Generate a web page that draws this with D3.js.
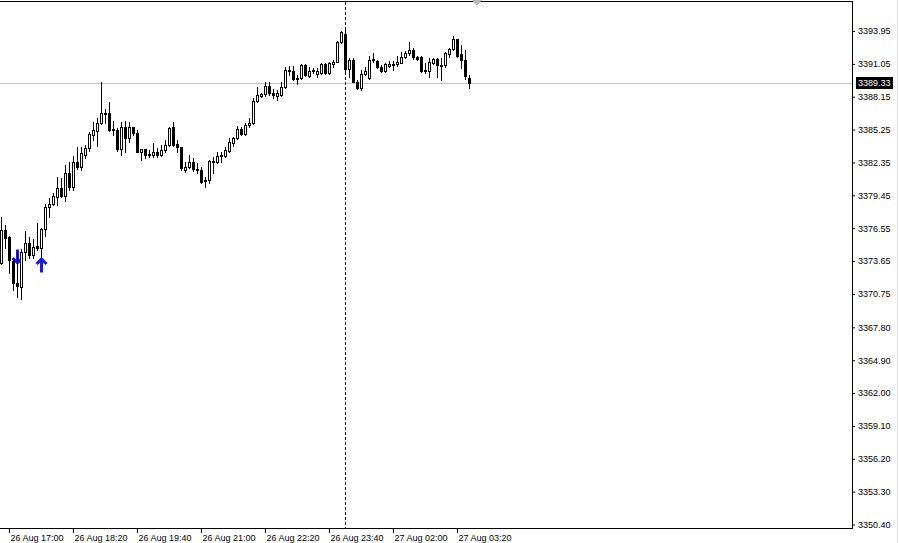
<!DOCTYPE html>
<html><head><meta charset="utf-8">
<script src="https://cdn.jsdelivr.net/npm/d3@7"></script>
<style>
html,body{margin:0;padding:0;background:#fff;overflow:hidden}
svg{display:block;font-family:"Liberation Sans",Arial,sans-serif}
</style></head><body><svg id="c" width="899" height="543"></svg>
<script>
// ---- data (M5 bars from 26 Aug 16:50) ----
const opens = [3373.48,3376.39,3375.77,3373.65,3371.71,3371.40,3374.45,3375.24,3374.18,3375.02,
3374.84,3376.48,3378.40,3378.65,3379.33,3380.07,3379.41,3381.39,3380.21,3382.36,
3381.98,3383.01,3383.65,3384.77,3385.13,3385.80,3386.63,3386.69,3385.24,3385.21,
3383.51,3385.50,3384.53,3385.45,3384.92,3383.30,3383.51,3383.07,3383.01,3383.30,
3383.01,3383.45,3383.89,3385.45,3383.98,3383.69,3381.68,3381.92,3382.42,3381.77,
3381.68,3380.80,3380.80,3382.40,3382.36,3382.95,3382.95,3383.40,3384.09,3384.48,
3385.27,3384.86,3385.62,3385.80,3387.77,3388.25,3388.36,3389.10,3388.45,3388.24,
3388.30,3389.04,3390.51,3390.45,3389.71,3389.78,3390.95,3390.01,3390.40,3390.16,
3390.22,3391.04,3390.27,3391.04,3391.24,3392.95,3393.66,3390.60,3391.39,3389.48,
3388.92,3390.13,3389.78,3391.39,3391.30,3390.80,3390.39,3390.89,3391.01,3391.01,
3391.17,3391.66,3391.98,3392.27,3391.68,3391.62,3390.51,3390.42,3391.17,3391.48,
3390.95,3390.92,3391.89,3392.36,3393.21,3391.89,3391.39,3389.83];
const highs = [3377.54,3376.83,3375.86,3373.83,3374.45,3374.71,3376.30,3375.77,3375.59,3377.01,
3376.55,3378.68,3379.21,3379.63,3381.10,3380.95,3382.13,3382.36,3382.95,3383.74,
3383.74,3383.89,3385.06,3385.95,3386.24,3389.45,3387.04,3387.71,3386.01,3385.36,
3385.95,3386.04,3385.95,3385.50,3385.21,3383.51,3383.51,3383.45,3384.09,3383.62,
3383.89,3384.33,3385.50,3385.95,3384.33,3383.74,3382.42,3383.01,3382.74,3382.30,
3381.92,3381.04,3382.57,3382.80,3383.24,3383.24,3383.71,3384.48,3384.62,3385.57,
3385.45,3385.80,3386.24,3388.06,3389.04,3388.48,3389.42,3389.42,3388.83,3388.74,
3389.45,3390.80,3390.89,3390.89,3390.07,3391.01,3391.01,3390.80,3390.65,3390.65,
3391.10,3391.10,3391.19,3391.39,3393.07,3393.95,3394.13,3391.54,3391.54,3389.63,
3390.51,3390.77,3391.77,3391.98,3391.39,3390.95,3391.10,3391.30,3391.33,3391.77,
3392.12,3392.18,3393.01,3392.42,3391.77,3391.77,3391.10,3391.54,3391.60,3391.60,
3391.54,3392.12,3392.48,3393.54,3393.24,3392.71,3392.27,3390.07];
const lows = [3373.39,3374.80,3372.59,3371.09,3370.48,3370.30,3373.74,3373.92,3373.92,3374.62,
3373.92,3375.86,3377.50,3378.59,3378.59,3379.33,3378.95,3379.92,3379.92,3381.77,
3381.68,3382.72,3383.36,3384.33,3383.83,3385.75,3385.80,3385.15,3384.77,3383.36,
3383.01,3383.30,3384.18,3384.77,3383.30,3382.57,3382.72,3382.80,3382.80,3382.83,
3382.92,3383.30,3383.80,3383.80,3383.30,3381.68,3381.53,3381.83,3381.60,3381.45,
3380.51,3380.15,3380.51,3381.39,3382.27,3382.36,3382.83,3383.30,3383.80,3384.39,
3384.77,3384.77,3385.48,3385.72,3387.66,3388.12,3388.24,3388.30,3388.01,3387.86,
3388.21,3388.95,3390.07,3389.63,3389.25,3389.71,3390.01,3389.92,3390.22,3389.92,
3390.13,3390.13,3390.18,3390.80,3391.19,3392.86,3390.36,3389.92,3389.42,3388.83,
3388.74,3390.04,3389.71,3391.19,3390.71,3390.30,3390.33,3390.80,3390.51,3390.89,
3391.10,3391.54,3391.83,3391.48,3391.39,3390.36,3390.22,3389.92,3391.04,3389.92,
3389.63,3390.80,3391.68,3392.27,3391.68,3390.71,3389.71,3388.92];
const closes = [3376.39,3375.68,3373.74,3371.71,3371.49,3374.45,3375.24,3374.18,3374.88,3374.84,
3376.48,3378.42,3378.68,3379.41,3380.07,3379.41,3381.39,3380.21,3382.36,3381.98,
3383.16,3383.65,3384.83,3385.21,3385.80,3386.69,3386.74,3385.21,3385.27,3383.51,
3385.50,3384.48,3385.50,3384.92,3383.30,3383.51,3383.01,3383.01,3383.30,3383.01,
3383.45,3383.89,3385.36,3383.89,3383.69,3381.83,3381.92,3382.42,3381.77,3381.68,
3380.65,3380.74,3382.48,3382.46,3382.92,3383.01,3383.45,3384.18,3384.51,3385.27,
3384.86,3385.65,3385.86,3387.77,3388.30,3388.36,3389.10,3388.45,3388.30,3388.45,
3389.04,3390.51,3390.42,3389.71,3389.83,3390.95,3390.07,3390.42,3390.51,3390.42,
3391.04,3390.22,3391.10,3391.24,3392.95,3393.83,3390.60,3391.39,3389.48,3388.92,
3390.13,3390.42,3391.39,3391.48,3390.80,3390.39,3391.01,3391.01,3390.95,3391.24,
3391.69,3391.98,3392.27,3391.62,3391.48,3390.42,3390.42,3391.19,3391.48,3390.95,
3390.89,3391.98,3392.36,3393.21,3391.77,3391.39,3389.98,3389.33];

const yTickLabels = ["3350.40","3353.30","3356.20","3359.10","3362.00","3364.90","3367.80","3370.75",
"3373.65","3376.55","3379.45","3382.35","3385.25","3388.15","3391.05","3393.95"];
const xTickLabels = ["26 Aug 17:00","26 Aug 18:20","26 Aug 19:40","26 Aug 21:00",
"26 Aug 22:20","26 Aug 23:40","27 Aug 02:00","27 Aug 03:20"];
const bidPrice = 3389.33;
const priceMin = 3350.09, priceMax = 3396.60;
const buySignals = [{bar: 10, price: 3373.92}];
const sellSignals = [{bar: 4, price: 3373.39}];

// ---- bar times (M5, session break 00:00-01:00) ----
const N = opens.length;
const times = [];
{ let t = Date.UTC(2025, 7, 26, 16, 50);
  for (let i = 0; i < N; i++) {
    times.push(new Date(t));
    t += 5 * 60000;
    if (new Date(t).getUTCHours() === 0) t += 3600000;
  } }
const pad = n => String(n).padStart(2, "0");
const fmtTime = d => `${d.getUTCDate()} Aug ${pad(d.getUTCHours())}:${pad(d.getUTCMinutes())}`;
const bars = opens.map((o, i) => ({i, o, h: highs[i], l: lows[i], c: closes[i], t: fmtTime(times[i]), day: times[i].getUTCDate()}));

// ---- layout ----
const W = 899, H = 543;
const plotL = 0, plotR = 852, plotT = 1, plotB = 528;
const svg = d3.select("#c");
const x = d3.scaleLinear().domain([0, N - 1]).range([1, 1 + 4 * (N - 1)]);
const y = d3.scaleLinear().domain([priceMin, priceMax]).range([plotB, plotT]);
const ry = v => Math.round(y(v));

// light window edge at right
svg.append("line").attr("x1", W - 1.5).attr("x2", W - 1.5).attr("y1", 0).attr("y2", H)
  .attr("stroke", "#e4e4e4");

// frame
svg.append("line").attr("x1", plotL).attr("x2", plotR + 1).attr("y1", plotT + 0.5).attr("y2", plotT + 0.5).attr("stroke", "#000");
svg.append("line").attr("x1", plotL).attr("x2", plotR + 1).attr("y1", plotB + 0.5).attr("y2", plotB + 0.5).attr("stroke", "#000");
svg.append("line").attr("x1", plotR + 0.5).attr("x2", plotR + 0.5).attr("y1", plotT).attr("y2", plotB + 1).attr("stroke", "#000");

// bid line
svg.append("line").attr("x1", plotL).attr("x2", plotR).attr("y1", ry(bidPrice) + 0.5).attr("y2", ry(bidPrice) + 0.5)
  .attr("stroke", "#c0c0c0");

// day separator
const sepBars = bars.filter((b, k) => k > 0 && b.day !== bars[k - 1].day);
svg.selectAll("line.sep").data(sepBars).join("line").attr("class", "sep")
  .attr("x1", d => x(d.i) + 0.5).attr("x2", d => x(d.i) + 0.5)
  .attr("y1", plotT + 1).attr("y2", plotB)
  .attr("stroke", "#000").attr("stroke-dasharray", "3,2");

// chart shift marker
svg.append("path").attr("d", `M${x(N - 1) + 3},0 L${x(N - 1) + 13},0 L${x(N - 1) + 8},6 Z`).attr("fill", "#b8b8b8");

// signal arrows
const arrowCol = "#1a1ae0";
svg.selectAll("path.buy").data(buySignals).join("path").attr("class", "buy")
  .attr("d", d => { const cx = x(d.bar) + 0.5, t = y(d.price);
    return `M${cx - 5},${t + 6} L${cx},${t + 1.2} L${cx + 5},${t + 6} M${cx},${t + 1.5} L${cx},${t + 14.5}`; })
  .attr("fill", "none").attr("stroke", arrowCol).attr("stroke-width", 3);
svg.selectAll("path.sell").data(sellSignals).join("path").attr("class", "sell")
  .attr("d", d => { const cx = x(d.bar) + 0.5, t = y(d.price);
    return `M${cx - 5},${t - 6} L${cx},${t - 1.2} L${cx + 5},${t - 6} M${cx},${t - 1.5} L${cx},${t - 14.5}`; })
  .attr("fill", "none").attr("stroke", arrowCol).attr("stroke-width", 3);

// candles
const cg = svg.append("g").attr("shape-rendering", "crispEdges");
cg.selectAll("line.wick").data(bars).join("line").attr("class", "wick")
  .attr("x1", d => x(d.i) + 0.5).attr("x2", d => x(d.i) + 0.5)
  .attr("y1", d => ry(d.h)).attr("y2", d => ry(d.l) + 1)
  .attr("stroke", "#000");
cg.selectAll("rect.body").data(bars).join("rect").attr("class", "body")
  .attr("x", d => x(d.i) - 0.5).attr("width", 2)
  .attr("y", d => ry(Math.max(d.o, d.c)) + 0.5)
  .attr("height", d => Math.max(0, ry(Math.min(d.o, d.c)) - ry(Math.max(d.o, d.c))))
  .attr("fill", d => d.c >= d.o ? "#fff" : "#000")
  .attr("stroke", "#000").attr("stroke-width", 1);

// y axis
const yAxis = svg.append("g").attr("transform", `translate(${plotR},0)`)
  .call(d3.axisRight(y).tickValues(yTickLabels.map(Number)).tickSize(3).tickPadding(3)
    .tickFormat((d, k) => yTickLabels[k]))
  .call(g => g.select(".domain").remove());
yAxis.attr("font-family", null).attr("font-size", null);
yAxis.selectAll("text").attr("font-size", "9px").attr("fill", "#000");

// x axis
const xIdx = xTickLabels.map(l => bars.findIndex(b => b.t === l));
const xAxis = svg.append("g").attr("transform", `translate(0,${plotB})`)
  .call(d3.axisBottom(x).tickValues(xIdx).tickSize(5)
    .tickFormat((d, k) => xTickLabels[k]))
  .call(g => g.select(".domain").remove());
xAxis.attr("font-family", null).attr("font-size", null);
xAxis.selectAll("text").attr("text-anchor", "start").attr("x", 1).attr("y", 7)
  .attr("font-size", "9px").attr("fill", "#000");

// bid price label
const by = ry(bidPrice);
svg.append("rect").attr("x", plotR + 4).attr("y", by - 6).attr("width", 37).attr("height", 12).attr("fill", "#000");
svg.append("text").attr("x", plotR + 6).attr("y", by).attr("dy", "0.34em")
  .attr("font-size", "9px").attr("fill", "#fff").text(bidPrice.toFixed(2));
</script></body></html>
